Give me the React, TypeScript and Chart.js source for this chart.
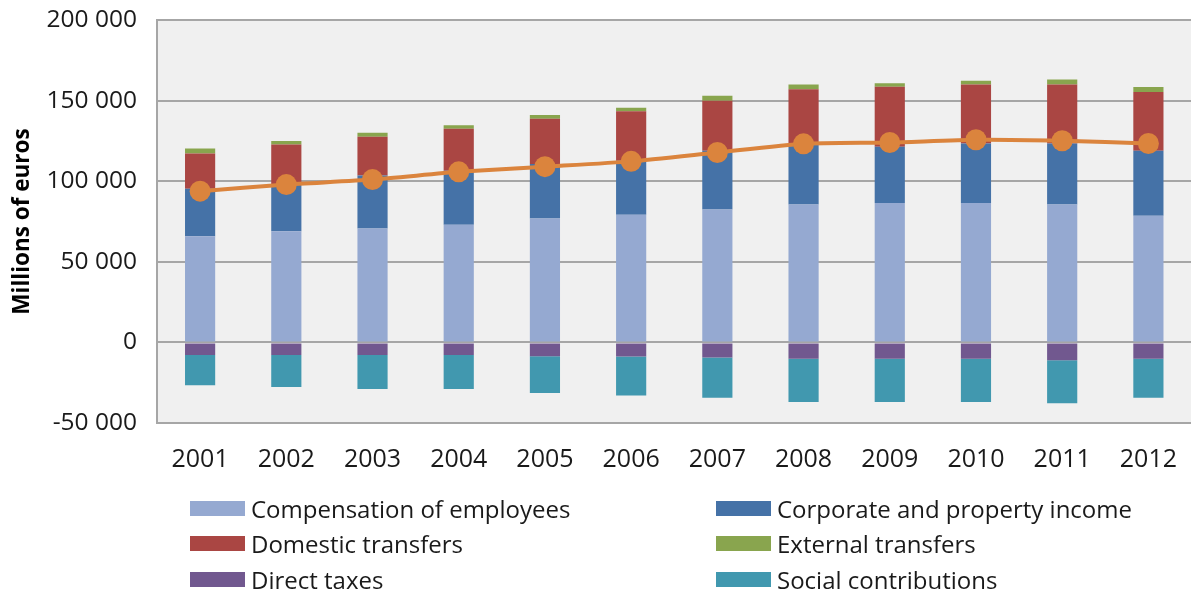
import React, { useEffect, useRef } from 'react';
import { Chart, registerables } from 'chart.js';

Chart.register(...registerables);

const years = ['2001', '2002', '2003', '2004', '2005', '2006', '2007', '2008', '2009', '2010', '2011', '2012'];

const compensation = [65800, 68900, 70600, 73000, 76900, 79200, 82500, 85600, 86400, 86400, 85600, 78600];
const corporate = [29500, 29400, 32900, 33500, 33800, 33500, 36400, 37400, 35000, 37000, 37800, 40300];
const domestic = [21900, 24500, 24000, 26000, 28100, 30700, 31000, 34000, 37200, 36600, 36600, 36400];
const external = [3100, 2200, 2500, 2200, 2300, 2200, 3100, 3000, 2200, 2300, 3100, 3100];
const directTaxes = [-7800, -7800, -7800, -7800, -8600, -8800, -9400, -10200, -10200, -10200, -11100, -10200];
const socialContrib = [-18850, -19900, -21100, -21100, -22800, -24200, -25000, -26700, -26700, -26700, -26600, -24200];
const disposableIncome = [93800, 97900, 101000, 105800, 109000, 112300, 117800, 123200, 124000, 125700, 125100, 123400];

const yMin = -50000;
const yMax = 200000;
const yStep = 50000;

const COLORS = {
  compensation: '#95A9D1',
  corporate: '#4572A7',
  domestic: '#AA4643',
  external: '#89A54E',
  direct: '#71588F',
  social: '#4198AF',
  line: '#DB843D',
};

const legendItems = [
  { label: 'Compensation of employees', color: COLORS.compensation, col: 0, row: 0 },
  { label: 'Corporate and property income', color: COLORS.corporate, col: 1, row: 0 },
  { label: 'Domestic transfers', color: COLORS.domestic, col: 0, row: 1 },
  { label: 'External transfers', color: COLORS.external, col: 1, row: 1 },
  { label: 'Direct taxes', color: COLORS.direct, col: 0, row: 2 },
  { label: 'Social contributions', color: COLORS.social, col: 1, row: 2 },
];

const FONT = "'Open Sans', 'DejaVu Sans', sans-serif";
const CANVAS_W = 1202;

function fmt(v: number): string {
  const s = String(Math.abs(v)).replace(/\B(?=(\d{3})+(?!\d))/g, ' ');
  return (v < 0 ? '-' : '') + s;
}

const plotBg = {
  id: 'plotBg',
  beforeDraw(chart: any) {
    const { ctx, chartArea } = chart;
    if (!chartArea) return;
    ctx.save();
    ctx.fillStyle = '#F0F0F0';
    ctx.fillRect(chartArea.left, chartArea.top, chartArea.right - chartArea.left, chartArea.bottom - chartArea.top);
    ctx.restore();
  },
};

export default function App() {
  const canvasRef = useRef<HTMLCanvasElement | null>(null);

  useEffect(() => {
    document.body.style.margin = '0';
    document.body.style.overflow = 'hidden';
    const canvas = canvasRef.current;
    if (!canvas) return;
    const bar = (label: string, data: number[], color: string) => ({
      type: 'bar' as const,
      label,
      data,
      backgroundColor: color,
      borderWidth: 0,
      stack: 'income',
      order: 1,
      categoryPercentage: 1,
      barPercentage: 0.35,
    });
    const chart = new Chart(canvas, {
      type: 'bar',
      data: {
        labels: years,
        datasets: [
          bar('Compensation of employees', compensation, COLORS.compensation),
          bar('Corporate and property income', corporate, COLORS.corporate),
          bar('Domestic transfers', domestic, COLORS.domestic),
          bar('External transfers', external, COLORS.external),
          bar('Direct taxes', directTaxes, COLORS.direct),
          bar('Social contributions', socialContrib, COLORS.social),
          {
            type: 'line' as const,
            label: 'Gross disposable income',
            data: disposableIncome,
            borderColor: COLORS.line,
            backgroundColor: COLORS.line,
            borderWidth: 4,
            pointRadius: 10.5,
            pointBackgroundColor: COLORS.line,
            pointBorderWidth: 0,
            tension: 0.2,
            stack: 'line',
            order: 0,
          } as any,
        ],
      },
      options: {
        animation: false,
        responsive: false,
        maintainAspectRatio: false,
        layout: { padding: { top: 20, right: 0, bottom: 0, left: 0 } },
        plugins: {
          legend: { display: false },
          title: { display: false },
          tooltip: { enabled: false },
        },
        scales: {
          x: {
            stacked: true,
            offset: true,
            grid: { display: true, color: 'transparent', drawOnChartArea: false, drawTicks: true, tickLength: 22, tickColor: 'transparent' },
            border: { display: true, color: '#A6A6A6', width: 2 },
            ticks: {
              color: '#1a1a1a',
              font: { family: FONT, size: 25 },
              padding: 0,
              maxRotation: 0,
            },
            afterFit: (scale: any) => {
              scale.height = 169;
              scale.paddingLeft = 0;
              scale.paddingRight = 0;
            },
          },
          y: {
            stacked: true,
            min: yMin,
            max: yMax,
            grid: { color: '#A6A6A6', lineWidth: 2, drawTicks: true, tickLength: 20, tickColor: 'transparent' },
            border: { display: true, color: '#A6A6A6', width: 2 },
            ticks: {
              stepSize: yStep,
              color: '#1a1a1a',
              font: { family: FONT, size: 24.5 },
              padding: 0,
              callback: (v: any) => fmt(Number(v)),
            },
            title: {
              display: true,
              text: 'Millions of euros',
              color: '#000000',
              font: { family: FONT, size: 22.5, weight: 'bold' },
              padding: { top: 9, bottom: 0 },
            },
            afterFit: (scale: any) => {
              scale.width = 157;
            },
          },
        },
      },
      plugins: [plotBg],
    } as any);
    return () => chart.destroy();
  }, []);

  const rowY = [508, 543, 579];
  const colX = [190, 716];

  return (
    <div style={{ position: 'relative', width: 1191, height: 592, background: '#ffffff', overflow: 'hidden' }}>
      <canvas ref={canvasRef} width={CANVAS_W} height={592} style={{ display: 'block', width: CANVAS_W, height: 592 }} />
      {legendItems.map((it) => (
        <div
          key={it.label}
          style={{
            position: 'absolute',
            left: colX[it.col],
            top: rowY[it.row] - 16,
            height: 32,
            display: 'flex',
            alignItems: 'center',
            fontFamily: FONT,
            fontSize: 24,
            color: '#1a1a1a',
            whiteSpace: 'nowrap',
          }}
        >
          <span style={{ display: 'inline-block', width: 55, height: 15, background: it.color, marginRight: 6 }} />
          <span>{it.label}</span>
        </div>
      ))}
    </div>
  );
}
